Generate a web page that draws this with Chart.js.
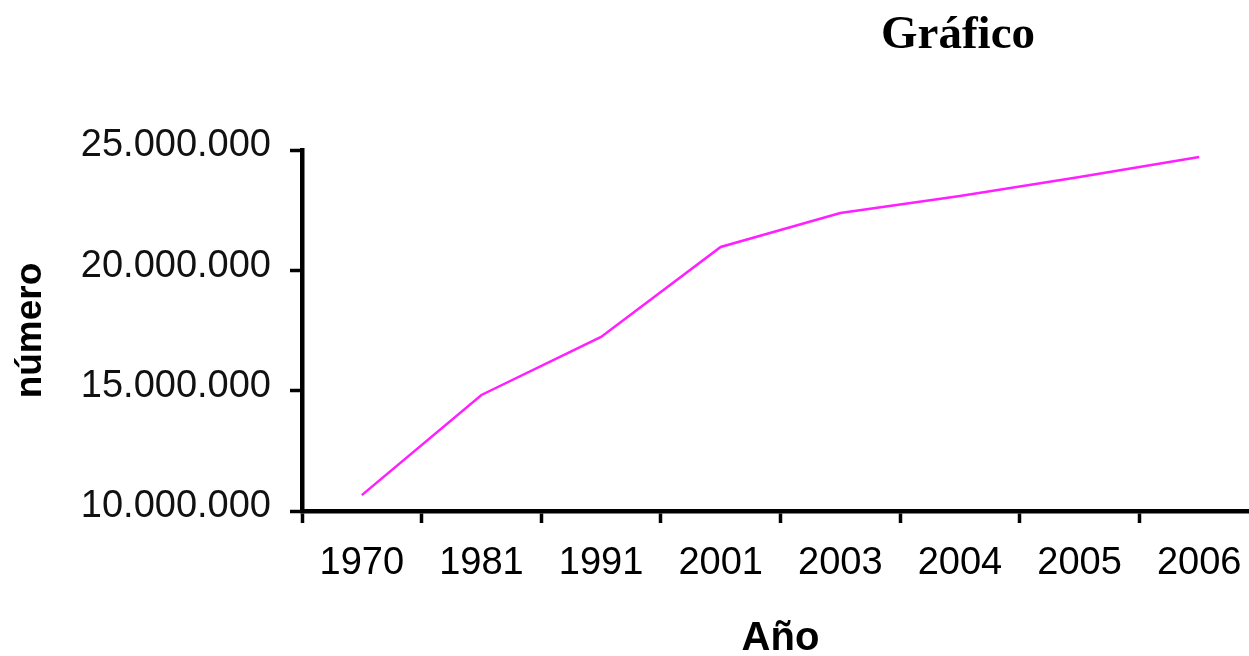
<!DOCTYPE html>
<html>
<head>
<meta charset="utf-8">
<script src="https://cdn.jsdelivr.net/npm/chart.js@4/dist/chart.umd.min.js"></script>
<style>
    html, body {
        margin: 0;
        padding: 0;
        background: #ffffff;
        overflow: hidden;
    }
    #wrap {
        position: relative;
        width: 1262px;
        height: 659px;
    }
    #title {
        position: absolute;
        left: 858px;
        top: 9px;
        width: 200px;
        text-align: center;
        font: bold 47px "Liberation Serif", "DejaVu Serif", serif;
        line-height: 1;
        color: #000000;
    }
</style>
</head>
<body>
<div id="wrap">
    <div id="title">Gráfico</div>
    <canvas id="chart" width="1262" height="659"></canvas>
</div>
<script>
const years = ["1970", "1981", "1991", "2001", "2003", "2004", "2005", "2006"];
const population = [10660000, 14820000, 17230000, 20970000, 22380000, 23090000, 23880000, 24710000];
const yMin = 10000000;
const yMax = 25000000;
const yStep = 5000000;

const axisFont = { family: "'Liberation Sans', Arial, sans-serif", size: 38 };

function formatThousands(value) {
    return String(value).replace(/\B(?=(\d{3})+(?!\d))/g, ".");
}

const config = {
    type: "line",
    data: {
        labels: years,
        datasets: [
            {
                data: population,
                borderColor: "#ff1fff",
                borderWidth: 2.5,
                tension: 0,
                pointRadius: 0,
                fill: false,
            },
        ],
    },
    options: {
        responsive: false,
        animation: false,
        layout: {
            padding: { top: 150, right: 3, left: 0, bottom: 0 },
        },
        plugins: {
            legend: { display: false },
            tooltip: { enabled: false },
            title: { display: false },
        },
        scales: {
            x: {
                type: "category",
                offset: true,
                grid: {
                    offset: true,
                    drawOnChartArea: false,
                    drawTicks: true,
                    tickLength: 12,
                    tickColor: "#000000",
                    tickWidth: 3.5,
                },
                border: { display: true, color: "#000000", width: 4.5 },
                ticks: {
                    color: "#000000",
                    font: axisFont,
                    padding: 18,
                    maxRotation: 0,
                    autoSkip: false,
                },
                title: {
                    display: true,
                    text: "Año",
                    color: "#000000",
                    font: { family: "'Liberation Sans', Arial, sans-serif", size: 40, weight: "bold", lineHeight: 1 },
                    padding: { top: 0, bottom: 0 },
                },
                afterFit: (scale) => {
                    scale.height = 148;
                },
            },
            y: {
                min: yMin,
                max: yMax,
                grid: {
                    drawOnChartArea: false,
                    drawTicks: true,
                    tickLength: 12,
                    tickColor: "#000000",
                    tickWidth: 3.5,
                },
                border: { display: true, color: "#000000", width: 4.5 },
                ticks: {
                    stepSize: yStep,
                    color: "#111111",
                    font: axisFont,
                    padding: 19,
                    labelOffset: -4,
                    callback: (value) => formatThousands(value),
                },
                title: {
                    display: true,
                    text: "número",
                    color: "#000000",
                    font: { family: "'Liberation Sans', Arial, sans-serif", size: 37, weight: "bold", lineHeight: 1 },
                    padding: { top: 12, bottom: 0 },
                },
                afterFit: (scale) => {
                    scale.width = 302;
                },
            },
        },
    },
};

new Chart(document.getElementById("chart"), config);
</script>
</body>
</html>
